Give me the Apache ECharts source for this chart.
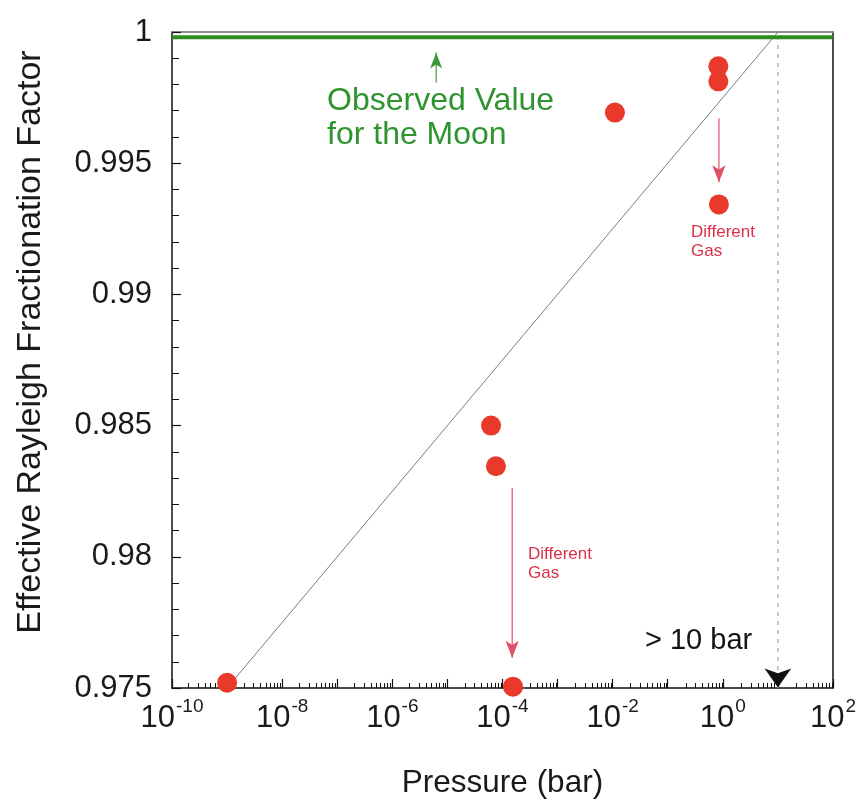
<!DOCTYPE html>
<html>
<head>
<meta charset="utf-8">
<title>Effective Rayleigh Fractionation Factor vs Pressure</title>
<script src="https://cdn.jsdelivr.net/npm/echarts@6/dist/echarts.min.js"></script>
<style>
  html, body { margin: 0; padding: 0; background: #ffffff; }
  #chart { width: 859px; height: 805px; }
</style>
</head>
<body>
<div id="chart"></div>
<script>
// Measured fractionation factors against pressure (bar)
const pressure = [1e-9, 6.2e-5, 7.6e-5, 1.55e-4, 0.011, 0.83, 0.83, 0.85];
const factor   = [0.97520, 0.98500, 0.98345, 0.97505, 0.99693, 0.99869, 0.99812, 0.99343];

// Reference lines
const moonValue = 0.9998;                       // observed value for the Moon
const trendPressure = [1e-9, 10];               // thin trend line endpoints
const trendFactor   = [0.975, 1.0];
const limitPressure = 10;                       // "> 10 bar" marker

// Annotation arrows: [pressure, from, to]
const moonArrow  = [6.25e-6, 0.99808, 0.99922];
const gasArrowA  = [0.85, 0.99671, 0.99427];
const gasArrowB  = [1.5e-4, 0.98262, 0.97615];

// Axis ticks
const xDecades = [-10, -9, -8, -7, -6, -5, -4, -3, -2, -1, 0, 1, 2];
const xLabelExponents = [-10, -8, -6, -4, -2, 0, 2];
const xMinorSteps = [2, 3, 4, 5, 6, 7, 8, 9];
const yMin = 0.975, yMax = 1.0, yStep = 0.005;

const FONT = 'Liberation Sans, Arial, Helvetica, sans-serif';

const majorTicks = xDecades.map(e => Math.pow(10, e));
const labelTicks = xLabelExponents.map(e => Math.pow(10, e));
const minorTicks = [];
xDecades.slice(0, -1).forEach(e => {
  xMinorSteps.forEach(k => minorTicks.push(k * Math.pow(10, e)));
});

const chart = echarts.init(document.getElementById('chart'), null, { renderer: 'canvas' });

const gridRect = { left: 172, right: 24, top: 32, bottom: 117 };

function arrowSeries(a, color, width, rotate, size) {
  return {
    type: 'line',
    xAxisIndex: 0, yAxisIndex: 0,
    silent: true,
    z: 4,
    lineStyle: { color: color, width: width },
    itemStyle: { color: color, opacity: 1 },
    data: [
      { value: [a[0], a[1]], symbol: 'none' },
      { value: [a[0], a[2]], symbol: 'arrow', symbolSize: size, symbolRotate: rotate }
    ]
  };
}

const option = {
  backgroundColor: '#ffffff',
  animation: false,
  grid: [
    Object.assign({ show: false }, gridRect),
    Object.assign({ show: false }, gridRect)
  ],
  xAxis: [
    {
      type: 'log', logBase: 10, gridIndex: 0, position: 'bottom',
      min: 1e-10, max: 1e2,
      name: 'Pressure (bar)', nameLocation: 'middle', nameGap: 79,
      nameTextStyle: { fontFamily: FONT, fontSize: 31.5, color: '#1a1a1a' },
      axisLine: { show: true, lineStyle: { color: '#111', width: 1.5 } },
      axisTick: { show: true, inside: true, length: 9, customValues: majorTicks,
                  lineStyle: { color: '#111', width: 1.2 } },
      axisLabel: {
        customValues: labelTicks, margin: 9,
        formatter: v => '{b|10}{s|' + Math.round(Math.log10(v)) + '}',
        rich: {
          b: { fontFamily: FONT, fontSize: 31, color: '#1a1a1a', lineHeight: 37, verticalAlign: 'bottom' },
          s: { fontFamily: FONT, fontSize: 19, color: '#1a1a1a', lineHeight: 37, verticalAlign: 'top', padding: [0, 0, 0, 1] }
        }
      },
      splitLine: { show: false }, minorTick: { show: false }
    },
    {
      type: 'value', gridIndex: 0, position: 'top', min: 0, max: 1,
      axisLine: { show: true, lineStyle: { color: '#8c8c8c', width: 2 } },
      axisTick: { show: false }, axisLabel: { show: false }, splitLine: { show: false }
    },
    {
      type: 'log', logBase: 10, gridIndex: 1, position: 'bottom',
      min: 1e-10, max: 1e2,
      axisLine: { show: false },
      axisTick: { show: true, inside: true, length: 5, customValues: minorTicks,
                  lineStyle: { color: '#111', width: 1 } },
      axisLabel: { show: false }, splitLine: { show: false }
    }
  ],
  yAxis: [
    {
      type: 'value', gridIndex: 0, position: 'left',
      min: yMin, max: yMax, interval: yStep,
      name: 'Effective Rayleigh Fractionation Factor', nameLocation: 'middle', nameGap: 124,
      nameTextStyle: { fontFamily: FONT, fontSize: 34, color: '#1a1a1a', padding: [0, 0, 0, 36] },
      axisLine: { show: true, lineStyle: { color: '#111', width: 1.5 } },
      axisTick: { show: true, inside: true, length: 9, lineStyle: { color: '#111', width: 1.2 } },
      minorTick: { show: true, splitNumber: 5, length: 7, lineStyle: { color: '#111', width: 1 } },
      axisLabel: { fontFamily: FONT, fontSize: 31, color: '#1a1a1a', margin: 20,
                   formatter: v => String(Math.round(v * 1000) / 1000) },
      splitLine: { show: false }
    },
    {
      type: 'value', gridIndex: 0, position: 'right', min: 0, max: 1,
      axisLine: { show: true, lineStyle: { color: '#111', width: 1.5 } },
      axisTick: { show: false }, axisLabel: { show: false }, splitLine: { show: false }
    },
    {
      type: 'value', gridIndex: 1, min: 0, max: 1, show: false
    }
  ],
  series: [
    {
      // observed lunar value
      type: 'line', xAxisIndex: 0, yAxisIndex: 0, silent: true, symbol: 'none', z: 3,
      lineStyle: { color: '#2e8b1f', width: 4 },
      data: [[1e-10, moonValue], [1e2, moonValue]]
    },
    {
      // trend line
      type: 'line', xAxisIndex: 0, yAxisIndex: 0, silent: true, symbol: 'none', z: 2,
      lineStyle: { color: '#7a7a7a', width: 1 },
      data: trendPressure.map((p, i) => [p, trendFactor[i]])
    },
    {
      // 10 bar limit
      type: 'line', xAxisIndex: 0, yAxisIndex: 0, silent: true, symbol: 'none', z: 2,
      lineStyle: { color: '#b5b5b5', width: 1.5, type: [4, 5] },
      data: [[limitPressure, yMin], [limitPressure, yMax]]
    },
    {
      // limit marker head
      type: 'scatter', xAxisIndex: 0, yAxisIndex: 0, silent: true, z: 5,
      symbol: 'arrow', symbolRotate: 180, symbolSize: [20, 19],
      itemStyle: { color: '#111', opacity: 1 },
      data: [[limitPressure, 0.97502]]
    },
    arrowSeries(moonArrow, '#3c9a3c', 1.2, 0, [9, 16]),
    arrowSeries(gasArrowA, '#e0506a', 1.2, 180, [10, 17]),
    arrowSeries(gasArrowB, '#e0506a', 1.2, 180, [10, 17]),
    {
      // measurements
      type: 'scatter', xAxisIndex: 0, yAxisIndex: 0, z: 6,
      symbolSize: 20,
      itemStyle: { color: '#e8392a', opacity: 1 },
      data: pressure.map((p, i) => [p, factor[i]])
    }
  ],
  graphic: [
    {
      type: 'text', left: 327, top: 84, z: 10, silent: true,
      style: { text: 'Observed Value\nfor the Moon', fontFamily: FONT, fontSize: 32,
               lineHeight: 34, fill: '#2f942f' }
    },
    {
      type: 'text', left: 645, top: 626, z: 10, silent: true,
      style: { text: '> 10 bar', fontFamily: FONT, fontSize: 29, fill: '#141414' }
    },
    {
      type: 'text', left: 691, top: 223, z: 10, silent: true,
      style: { text: 'Different\nGas', fontFamily: FONT, fontSize: 17, lineHeight: 19, fill: '#dc3048' }
    },
    {
      type: 'text', left: 528, top: 545, z: 10, silent: true,
      style: { text: 'Different\nGas', fontFamily: FONT, fontSize: 17, lineHeight: 19, fill: '#dc3048' }
    }
  ]
};

chart.setOption(option);
</script>
</body>
</html>
